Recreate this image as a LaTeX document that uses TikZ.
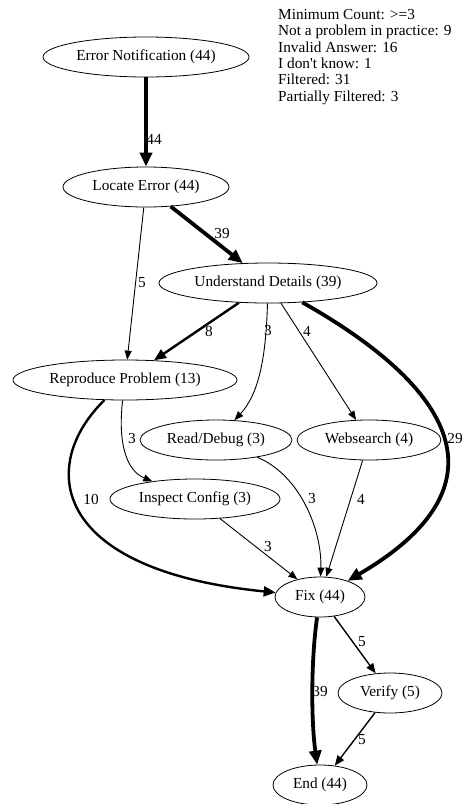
\documentclass[tikz,border=0pt]{standalone}
\usepackage{fontspec}
\setmainfont{Liberation Serif}
\usetikzlibrary{arrows.meta, positioning, shapes.geometric}

\begin{document}
\begin{tikzpicture}[x=1pt, y=-1pt,
        state/.style={draw, ellipse, line width=0.8pt, inner sep=0pt, minimum height=40pt, font=\fontsize{15.3}{16.4}\selectfont},
        cnt/.style={inner sep=0pt, font=\fontsize{15.3}{16.4}\selectfont},
        flowa/.style={line width=0.9pt, -{Triangle[length=9pt, width=7pt]}},
        flowb/.style={line width=1.4pt, -{Triangle[length=10pt, width=8pt]}},
        flowc/.style={line width=2.4pt, -{Triangle[length=12pt, width=10pt]}},
        flowd/.style={line width=3.8pt, -{Triangle[length=14pt, width=12pt]}}]
            \useasboundingbox (0,0) rectangle (462,804);

            % Steps
            \node[state, minimum width=206pt] (err) at (146,57) {Error Notification (44)};
            \node[state, minimum width=166pt] (loc) at (146,187) {Locate Error (44)};
            \node[state, minimum width=218pt] (und) at (268,283) {Understand Details (39)};
            \node[state, minimum width=224pt] (rep) at (125,380) {Reproduce Problem (13)};
            \node[state, minimum width=152pt] (read) at (216,440) {Read/Debug (3)};
            \node[state, minimum width=144pt] (web) at (369,440) {Websearch (4)};
            \node[state, minimum width=170pt] (insp) at (195,499) {Inspect Config (3)};
            \node[state, minimum width=90pt] (fix) at (320,597) {Fix (44)};
            \node[state, minimum width=104pt] (ver) at (390,693) {Verify (5)};
            \node[state, minimum width=94pt] (end) at (320,785) {End (44)};

            % Filter summary
            \node[cnt, align=left, anchor=north west] (legend) at (278,9)
                {Minimum Count: >=3\\Not a problem in practice: 9\\Invalid Answer: 16\\I don\textquotesingle t know: 1\\Filtered: 31\\Partially Filtered: 3};

            % Transitions
            \draw[flowd] (err) -- (loc);
            \draw[flowd] (loc) -- (und);
            \draw[flowa] (loc) -- (rep);
            \draw[flowc] (und) -- (rep);
            \draw[flowa] (und) .. controls (266,360) and (258,395) .. (read);
            \draw[flowa] (und) -- (web);
            \draw[flowd] (und) .. controls (440,380) and (520,480) .. (fix);
            \draw[flowc] (rep) .. controls (38,465) and (50,570) .. (fix);
            \draw[flowa] (rep) .. controls (118,440) and (125,470) .. (insp);
            \draw[flowa] (read) .. controls (300,475) and (322,530) .. (fix);
            \draw[flowa] (web) -- (fix);
            \draw[flowa] (insp) -- (fix);
            \draw[flowd] (fix) .. controls (311,660) and (311,720) .. (end);
            \draw[flowb] (fix) -- (ver);
            \draw[flowb] (ver) -- (end);

            % Counts
            \node[cnt] (c1) at (154,139) {44};
            \node[cnt] (c2) at (222,234) {39};
            \node[cnt] (c3) at (142,283) {5};
            \node[cnt] (c4) at (209,331) {8};
            \node[cnt] (c5) at (268,331) {3};
            \node[cnt] (c6) at (307,331) {4};
            \node[cnt] (c7) at (455,439) {29};
            \node[cnt] (c8) at (132,439) {3};
            \node[cnt] (c9) at (91,499) {10};
            \node[cnt] (c10) at (312,499) {3};
            \node[cnt] (c11) at (361,499) {4};
            \node[cnt] (c12) at (268,547) {3};
            \node[cnt] (c13) at (320,692) {39};
            \node[cnt] (c14) at (362,642) {5};
            \node[cnt] (c15) at (362,740) {5};
\end{tikzpicture}
\end{document}
